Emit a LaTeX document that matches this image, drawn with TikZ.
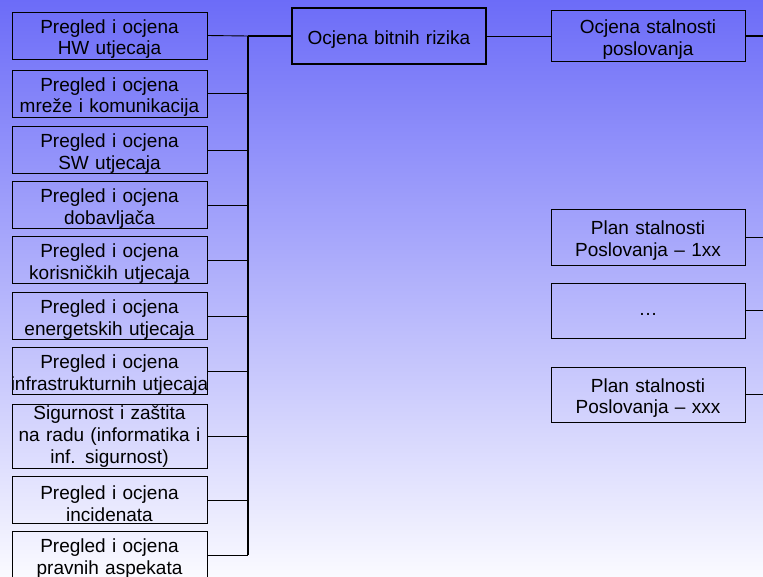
\documentclass[tikz,border=0pt]{standalone}
\usepackage{fontspec}
\setmainfont{Liberation Sans}
\usepackage{xcolor}

\definecolor{bgtop}{RGB}{108,108,248}
\definecolor{bgmid}{RGB}{192,192,252}
\definecolor{bgbot}{RGB}{250,250,255}

\begin{document}
\begin{tikzpicture}[x=1pt, y=-1pt,
  box/.style={draw=black, line width=0.9pt, text width=195pt, align=center,
    inner xsep=0pt, inner ysep=0pt, minimum height=47pt, text height=21pt,
    font=\fontsize{19}{21.8}\selectfont},
  tallbox/.style={box, minimum height=64pt, text height=14.5pt},
  hub/.style={box, line width=2.6pt, text width=194pt, minimum height=56pt},
  plan/.style={box, text width=194pt, minimum height=55pt},
  link/.style={line width=0.9pt},
  trunk/.style={line width=2pt}]
% pozadina
\useasboundingbox (0,0) rectangle (763,576);
\fill[top color=bgtop, middle color=bgmid, bottom color=bgbot] (0,0) rectangle (763,576);

% lijevi stupac
\node[box] (hw) at (109.5,35.5) {Pregled i ocjena\\HW utjecaja};
\node[box] (mreza) at (109.5,93.5) {Pregled i ocjena\\mreže i komunikacija};
\node[box] (sw) at (109.5,150) {Pregled i ocjena\\SW utjecaja};
\node[box] (dob) at (109.5,205) {Pregled i ocjena\\dobavljača};
\node[box] (kor) at (109.5,260) {Pregled i ocjena\\korisničkih utjecaja};
\node[box] (ener) at (109.5,316) {Pregled i ocjena\\energetskih utjecaja};
\node[box] (infra) at (109.5,371) {Pregled i ocjena\\\makebox[\linewidth]{infrastrukturnih utjecaja}};
\node[tallbox] (sig) at (109.5,436) {Sigurnost i zaštita\\na radu (informatika i\\inf. sigurnost)};
\node[box] (inc) at (109.5,500) {Pregled i ocjena\\incidenata};
\node[box] (prav) at (109.5,555) {Pregled i ocjena\\pravnih aspekata};

% sredina
\node[hub] (rizik) at (389,36) {Ocjena bitnih rizika};
\node[plan, minimum height=51pt] (stal) at (648,36) {Ocjena stalnosti\\poslovanja};

% planovi
\node[plan, minimum height=56pt] (plan1) at (648,237) {Plan stalnosti\\Poslovanja – 1xx};
\node[plan, text height=14pt, text depth=4pt] (plan2) at (648,310.5) {…};
\node[plan] (plan3) at (648,394.5) {Plan stalnosti\\Poslovanja – xxx};

% sabirnica
\coordinate (t1) at (248,36);
\coordinate (t2) at (248,555);
\coordinate (r0) at (763,36);
\draw[trunk] (t1) -- (t2);
\draw[trunk] (t1) -- (rizik.west);
\draw[link] (hw.east) -- (t1);
\draw[link] (mreza.east) -- (mreza.east -| t1);
\draw[link] (sw.east) -- (sw.east -| t1);
\draw[link] (dob.east) -- (dob.east -| t1);
\draw[link] (kor.east) -- (kor.east -| t1);
\draw[link] (ener.east) -- (ener.east -| t1);
\draw[link] (infra.east) -- (infra.east -| t1);
\draw[link] (sig.east) -- (sig.east -| t1);
\draw[link] (inc.east) -- (inc.east -| t1);
\draw[link] (prav.east) -- (t2);

% desno
\draw[link] (rizik.east) -- (stal.west);
\draw[trunk] (stal.east) -- (r0);
\draw[link] (plan1.east) -- (plan1.east -| r0);
\draw[link] (plan2.east) -- (plan2.east -| r0);
\draw[link] (plan3.east) -- (plan3.east -| r0);
\end{tikzpicture}
\end{document}
